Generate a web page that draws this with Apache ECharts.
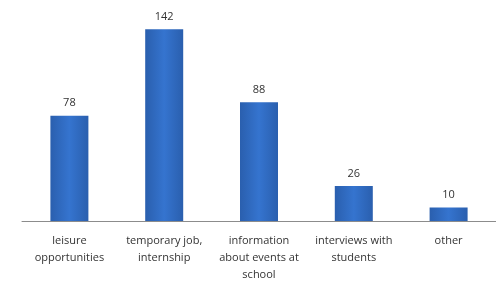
<!DOCTYPE html>
<html>
<head>
<meta charset="utf-8">
<script src="https://cdn.jsdelivr.net/npm/echarts@6/dist/echarts.min.js"></script>
<style>
  html, body { margin: 0; padding: 0; background: #fff; }
  #chart { width: 496px; height: 283px; }
</style>
</head>
<body>
<div id="chart"></div>
<script>
const categories = [
  'leisure\nopportunities',
  'temporary job,\ninternship',
  'information\nabout events at\nschool',
  'interviews with\nstudents',
  'other'
]
const counts = [78, 142, 88, 26, 10]

const chart = echarts.init(document.getElementById('chart'))

const barColor = new echarts.graphic.LinearGradient(0, 0, 1, 0, [
  { offset: 0, color: '#2a5fae' },
  { offset: 0.5, color: '#3574cf' },
  { offset: 1, color: '#2a5fae' }
])

chart.setOption({
  animation: false,
  textStyle: { fontFamily: 'Open Sans' },
  grid: { left: 22, right: 0, top: 5, bottom: 60 },
  xAxis: {
    type: 'category',
    data: categories,
    axisLine: { lineStyle: { color: '#8c8c8c', width: 1 } },
    axisTick: { show: false },
    axisLabel: {
      interval: 0,
      margin: 11,
      fontSize: 11,
      lineHeight: 17,
      color: '#333'
    }
  },
  yAxis: {
    type: 'value',
    min: 0,
    max: 160,
    show: false,
    splitLine: { show: false }
  },
  series: [
    {
      type: 'bar',
      data: counts,
      barWidth: 38,
      itemStyle: { color: barColor },
      label: {
        show: true,
        position: 'top',
        distance: 7,
        fontSize: 11,
        color: '#333'
      }
    }
  ]
})
</script>
</body>
</html>
